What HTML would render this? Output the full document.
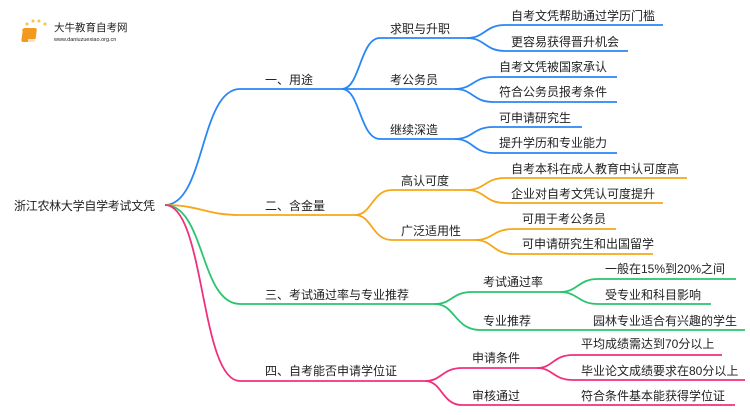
<!DOCTYPE html>
<html><head><meta charset="utf-8"><style>
body{margin:0;background:#fff;width:750px;height:410px;overflow:hidden}
text{font-family:"Liberation Sans","Noto Sans CJK SC",sans-serif;fill:#222}
</style></head><body>
<svg width="750" height="410" viewBox="0 0 750 410" xmlns="http://www.w3.org/2000/svg">
<g fill="none" stroke-width="1.8">
<g stroke="#2a86f5">
<path d="M165,205 C205,205 200,89 240,89 H342"/>
<path d="M342,89 C360,89 360,38 380,38 H467"/>
<path d="M342,89 H455"/>
<path d="M342,89 C360,89 360,139 380,139 H455"/>
<path d="M467,38 C485,38 485,25 505,25 H663"/>
<path d="M467,38 C485,38 485,51 505,51 H628"/>
<path d="M455,89 C473,89 473,77 493,77 H617"/>
<path d="M455,89 C473,89 473,102 493,102 H617"/>
<path d="M455,139 C473,139 473,127 493,127 H582"/>
<path d="M455,139 C473,139 473,153 493,153 H617"/>
</g>
<g stroke="#f5a718">
<path d="M165,205 C200,205 205,215 240,215 H355"/>
<path d="M355,215 C372,215 372,190 392,190 H467"/>
<path d="M355,215 C372,215 372,240 392,240 H475"/>
<path d="M467,190 C485,190 485,178 505,178 H687"/>
<path d="M467,190 C485,190 485,203 505,203 H663"/>
<path d="M475,240 C493,240 493,229 513,229 H616"/>
<path d="M475,240 C493,240 493,254 513,254 H653"/>
</g>
<g stroke="#2bc46e">
<path d="M165,205 C205,205 200,304 240,304 H435"/>
<path d="M435,304 C452,304 452,292 472,292 H560"/>
<path d="M435,304 C455,304 455,330 480,330 H745"/>
<path d="M560,292 C578,292 578,279 598,279 H736"/>
<path d="M560,292 C578,292 578,304 598,304 H711"/>
</g>
<g stroke="#f0307a">
<path d="M165,205 C205,205 200,381 240,381 H425"/>
<path d="M425,381 C442,381 442,368 462,368 H537"/>
<path d="M425,381 C442,381 442,405 462,405 H735"/>
<path d="M537,368 C553,368 553,355 573,355 H722"/>
<path d="M537,368 C553,368 553,380 573,380 H745"/>
</g>
</g>
<g>
<circle cx="27" cy="24" r="1.5" fill="#f8c14a"/><circle cx="33" cy="21" r="1.5" fill="#f8c14a"/><circle cx="39" cy="21" r="1.5" fill="#f8c14a"/><circle cx="45" cy="24" r="1.5" fill="#f8c14a"/><circle cx="23" cy="30" r="1.2" fill="#f8c14a"/>
<rect x="27" y="28" width="14" height="14" rx="2" fill="#f29a1f" transform="skewX(-8)"/>
<rect x="28" y="39" width="13" height="3" fill="#fff" opacity="0.7"/>
<text x="54" y="31" font-size="10.5" fill="#444">大牛教育自考网</text>
<text x="54" y="41" font-size="5.5" fill="#666">www.daniuzuexiao.org.cn</text>
</g>
<g font-size="12">
<text x="14" y="210" textLength="141">浙江农林大学自学考试文凭</text>
<text x="265" y="84">一、用途</text>
<text x="265" y="210">二、含金量</text>
<text x="265" y="299">三、考试通过率与专业推荐</text>
<text x="265" y="375">四、自考能否申请学位证</text>
<text x="390" y="33">求职与升职</text>
<text x="390" y="84">考公务员</text>
<text x="390" y="134">继续深造</text>
<text x="401" y="185">高认可度</text>
<text x="401" y="235">广泛适用性</text>
<text x="483" y="286">考试通过率</text>
<text x="483" y="325">专业推荐</text>
<text x="472" y="362">申请条件</text>
<text x="472" y="400">审核通过</text>
<text x="511" y="20">自考文凭帮助通过学历门槛</text>
<text x="511" y="46">更容易获得晋升机会</text>
<text x="499" y="71">自考文凭被国家承认</text>
<text x="499" y="96">符合公务员报考条件</text>
<text x="499" y="122">可申请研究生</text>
<text x="499" y="147">提升学历和专业能力</text>
<text x="511" y="173">自考本科在成人教育中认可度高</text>
<text x="511" y="198">企业对自考文凭认可度提升</text>
<text x="522" y="223">可用于考公务员</text>
<text x="522" y="248">可申请研究生和出国留学</text>
<text x="605" y="273">一般在15%到20%之间</text>
<text x="605" y="299">受专业和科目影响</text>
<text x="593" y="325">园林专业适合有兴趣的学生</text>
<text x="581" y="348">平均成绩需达到70分以上</text>
<text x="581" y="375">毕业论文成绩要求在80分以上</text>
<text x="581" y="400">符合条件基本能获得学位证</text>
</g>
</svg>
</body></html>
